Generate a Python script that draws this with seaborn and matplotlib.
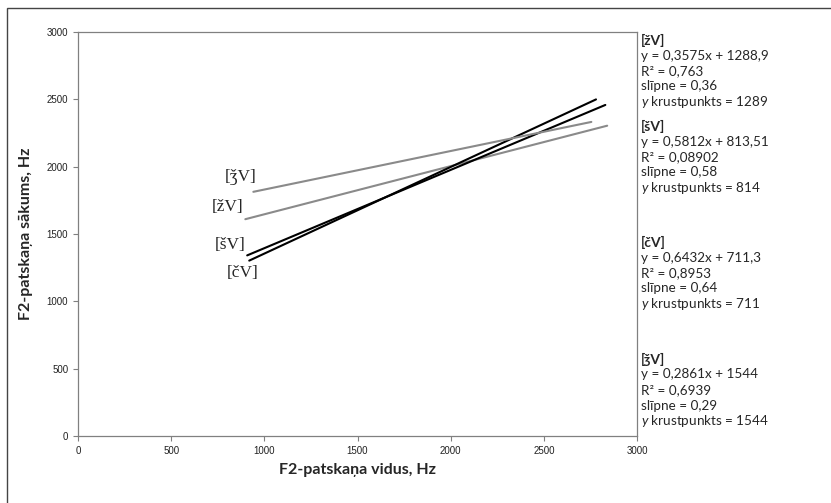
import matplotlib
matplotlib.use("Agg")
import matplotlib.pyplot as plt
from matplotlib.patches import Rectangle
import seaborn as sns
import pandas as pd

# regresijas taisnes (no grafika teksta)
labels = ["[žV]", "[šV]", "[čV]", "[ǯV]"]
slopes = [0.3575, 0.5812, 0.6432, 0.2861]
intercepts = [1288.9, 813.51, 711.3, 1544]
x_start = [898, 908, 919, 941]
x_end = [2840, 2830, 2780, 2755]
eq_text = ["y = 0,3575x + 1288,9", "y = 0,5812x + 813,51",
           "y = 0,6432x + 711,3", "y = 0,2861x + 1544"]
r2_text = ["0,763", "0,08902", "0,8953", "0,6939"]
slipne_text = ["0,36", "0,58", "0,64", "0,29"]
krust_text = ["1289", "814", "711", "1544"]
ticks = [0, 500, 1000, 1500, 2000, 2500, 3000]

rows = []
for lab, k, b, x0, x1 in zip(labels, slopes, intercepts, x_start, x_end):
    rows.append({"x": x0, "y": k * x0 + b, "skana": lab})
    rows.append({"x": x1, "y": k * x1 + b, "skana": lab})
df = pd.DataFrame(rows)

sns.set_style("ticks")
plt.rcParams["font.family"] = ["Lato", "DejaVu Sans"]
plt.rcParams["mathtext.fontset"] = "custom"
plt.rcParams["mathtext.it"] = "Lato:italic"
plt.rcParams["mathtext.rm"] = "Lato"

fig = plt.figure(figsize=(8.31, 5.03), dpi=100)
ax = fig.add_axes([78 / 831, 1 - 436 / 503, 559 / 831, 404 / 503])

palette = {"[žV]": "#8a8a8a", "[šV]": "black", "[čV]": "black", "[ǯV]": "#8a8a8a"}
sns.lineplot(data=df, x="x", y="y", hue="skana", palette=palette,
             linewidth=1.5, legend=False, ax=ax)

ax.set_xlim(0, 3000)
ax.set_ylim(0, 3000)
ax.set_xticks(ticks)
ax.set_yticks(ticks)
ax.tick_params(labelsize=7, length=3.5, width=0.8, color="#808080",
               labelcolor="#222222")
for t in ax.get_xticklabels() + ax.get_yticklabels():
    t.set_family(["Liberation Sans", "DejaVu Sans"])
for s in ax.spines.values():
    s.set_color("#808080")
    s.set_linewidth(0.9)

ax.set_xlabel("F2-patskaņa vidus, Hz", fontsize=11.5, fontweight="bold", labelpad=5)
ax.set_ylabel("F2-patskaņa sākums, Hz", fontsize=11.5, fontweight="bold", labelpad=10)

# uzraksti pie taisnēm
lab_pos = {"[ǯV]": (957, 1923), "[žV]": (887, 1700), "[šV]": (898, 1418), "[čV]": (968, 1210)}
for lab, (px, py) in lab_pos.items():
    ax.text(px, py, lab, ha="right", va="center", fontsize=12.5,
            family=["Liberation Serif", "DejaVu Serif"])

# vienādojumi labajā pusē
heads = [40, 126, 242, 359]
step = 15.5
for i, lab in enumerate(labels):
    y0 = heads[i]
    lines = [eq_text[i], "R² = " + r2_text[i], "slīpne = " + slipne_text[i],
             "$y$ krustpunkts = " + krust_text[i]]
    fig.text(641 / 831, 1 - y0 / 503, lab, fontsize=10, fontweight="bold", va="center")
    for j, s in enumerate(lines):
        fig.text(641 / 831, 1 - (y0 + step * (j + 1)) / 503, s, fontsize=9.7, va="center")

fig.add_artist(Rectangle((7 / 831, -0.1), 1.2, 1 - 8 / 503 + 0.1,
                         transform=fig.transFigure, fill=False,
                         edgecolor="#444444", linewidth=1))

plt.savefig("out.png", dpi=100)
